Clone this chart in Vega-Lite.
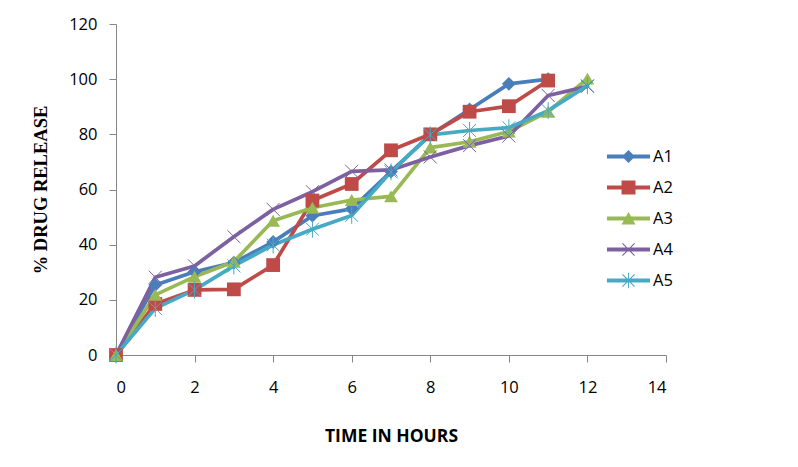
{
  "$schema": "https://vega.github.io/schema/vega-lite/v6.json",
  "autosize": "none",
  "width": 550,
  "height": 331,
  "padding": {"left": 116, "top": 24, "right": 132, "bottom": 112},
  "background": "white",
  "config": {
    "view": {"stroke": null},
    "axis": {"domainColor": "#868686", "tickColor": "#868686", "grid": false, "labelFont": "Open Sans", "labelFontSize": 16.5, "labelColor": "#000000", "tickSize": 7}
  },
  "data": {"values": [
    {"series": "A1", "t": 0, "v": 0}, {"series": "A1", "t": 1, "v": 25.4}, {"series": "A1", "t": 2, "v": 30.2}, {"series": "A1", "t": 3, "v": 33.5}, {"series": "A1", "t": 4, "v": 41}, {"series": "A1", "t": 5, "v": 50.5}, {"series": "A1", "t": 6, "v": 53}, {"series": "A1", "t": 7, "v": 66.5}, {"series": "A1", "t": 8, "v": 79.8}, {"series": "A1", "t": 9, "v": 89}, {"series": "A1", "t": 10, "v": 98.3}, {"series": "A1", "t": 11, "v": 100},
    {"series": "A2", "t": 0, "v": 0}, {"series": "A2", "t": 1, "v": 18.5}, {"series": "A2", "t": 2, "v": 23.6}, {"series": "A2", "t": 3, "v": 23.8}, {"series": "A2", "t": 4, "v": 32.6}, {"series": "A2", "t": 5, "v": 56}, {"series": "A2", "t": 6, "v": 62}, {"series": "A2", "t": 7, "v": 74.2}, {"series": "A2", "t": 8, "v": 80}, {"series": "A2", "t": 9, "v": 88.2}, {"series": "A2", "t": 10, "v": 90.2}, {"series": "A2", "t": 11, "v": 99.5},
    {"series": "A3", "t": 0, "v": 0}, {"series": "A3", "t": 1, "v": 21.8}, {"series": "A3", "t": 2, "v": 28.4}, {"series": "A3", "t": 3, "v": 33.8}, {"series": "A3", "t": 4, "v": 48.7}, {"series": "A3", "t": 5, "v": 53.4}, {"series": "A3", "t": 6, "v": 56.2}, {"series": "A3", "t": 7, "v": 57.5}, {"series": "A3", "t": 8, "v": 75.2}, {"series": "A3", "t": 9, "v": 77.3}, {"series": "A3", "t": 10, "v": 81}, {"series": "A3", "t": 11, "v": 88.2}, {"series": "A3", "t": 12, "v": 100.2},
    {"series": "A4", "t": 0, "v": 0}, {"series": "A4", "t": 1, "v": 28.2}, {"series": "A4", "t": 2, "v": 32.3}, {"series": "A4", "t": 3, "v": 42.9}, {"series": "A4", "t": 4, "v": 52.8}, {"series": "A4", "t": 5, "v": 59.2}, {"series": "A4", "t": 6, "v": 66.6}, {"series": "A4", "t": 7, "v": 67.1}, {"series": "A4", "t": 8, "v": 71.8}, {"series": "A4", "t": 9, "v": 75.9}, {"series": "A4", "t": 10, "v": 79.4}, {"series": "A4", "t": 11, "v": 94.1}, {"series": "A4", "t": 12, "v": 97.4},
    {"series": "A5", "t": 0, "v": 0}, {"series": "A5", "t": 1, "v": 16.9}, {"series": "A5", "t": 2, "v": 23.6}, {"series": "A5", "t": 3, "v": 32.3}, {"series": "A5", "t": 4, "v": 39.9}, {"series": "A5", "t": 5, "v": 45.6}, {"series": "A5", "t": 6, "v": 50.6}, {"series": "A5", "t": 7, "v": 66.4}, {"series": "A5", "t": 8, "v": 79.8}, {"series": "A5", "t": 9, "v": 81.4}, {"series": "A5", "t": 10, "v": 82.4}, {"series": "A5", "t": 11, "v": 88.6}, {"series": "A5", "t": 12, "v": 97.6}
  ]},
  "encoding": {
    "x": {"field": "t", "type": "quantitative", "scale": {"domain": [0, 14], "nice": false, "zero": false}, "axis": {"values": [0, 2, 4, 6, 8, 10, 12, 14], "title": "TIME IN HOURS", "titleFont": "Open Sans", "titleFontSize": 17.5, "titleFontWeight": "bold", "titleColor": "#000000", "labelPadding": 17, "titlePadding": 32}},
    "y": {"field": "v", "type": "quantitative", "scale": {"domain": [0, 120], "nice": false}, "axis": {"values": [0, 20, 40, 60, 80, 100, 120], "title": "% DRUG RELEASE", "titleFont": "Liberation Serif", "titleFontSize": 18.5, "titleFontWeight": "bold", "titleColor": "#000000", "labelPadding": 12, "titlePadding": 18}}
  },
  "layer": [
    {"mark": {"type": "line", "strokeWidth": 3.7, "strokeJoin": "round", "strokeCap": "round"},
     "encoding": {"color": {"field": "series", "type": "nominal", "scale": {"domain": ["A1", "A2", "A3", "A4", "A5"], "range": ["#4A7EBB", "#BE4B48", "#98B954", "#7D60A0", "#46AAC5"]}, "legend": null}}},
    {"transform": [{"filter": "datum.series === 'A1' || datum.series === 'A2' || datum.series === 'A3'"}],
     "mark": {"type": "point", "filled": true, "opacity": 1, "size": 190},
     "encoding": {"color": {"field": "series", "type": "nominal", "legend": null},
       "shape": {"field": "series", "type": "nominal", "scale": {"domain": ["A1", "A2", "A3"], "range": ["diamond", "square", "triangle-up"]}, "legend": null}}},
    {"transform": [{"filter": "datum.series === 'A4' || datum.series === 'A5'"}],
     "mark": {"type": "point", "filled": false, "opacity": 1, "size": 170, "strokeWidth": 1},
     "encoding": {"color": {"field": "series", "type": "nominal", "legend": null},
       "shape": {"field": "series", "type": "nominal", "scale": {"domain": ["A4", "A5"], "range": ["M-1,-1L1,1M-1,1L1,-1", "M-1,-1L1,1M-1,1L1,-1M0,-1.3L0,1.3"]}, "legend": null}}},
    {"mark": {"type": "point", "filled": true, "opacity": 0, "size": 961},
     "encoding": {
       "color": {"field": "series", "type": "nominal", "title": null,
        "legend": {"orient": "none", "legendX": 497, "legendY": 117, "padding": 0, "symbolSize": 961, "symbolOpacity": 1, "symbolStrokeWidth": 0, "rowPadding": 7, "labelOffset": 9, "labelFont": "Open Sans", "labelFontSize": 16.5, "labelColor": "#000000"}},
       "shape": {"field": "series", "type": "nominal", "title": null,
        "scale": {"domain": ["A1", "A2", "A3", "A4", "A5"], "range": [
          "M-1.39,-0.13H1.39V0.13H-1.39Z M0,-0.42L0.42,0L0,0.42L-0.42,0Z",
          "M-1.39,-0.13H1.39V0.13H-1.39Z M-0.45,-0.45H0.45V0.45H-0.45Z",
          "M-1.39,-0.13H1.39V0.13H-1.39Z M0,-0.42L0.45,0.38H-0.45Z",
          "M-1.39,-0.13H1.39V0.13H-1.39Z M-0.365,-0.415L0.415,0.365L0.365,0.415L-0.415,-0.365Z M-0.415,0.365L0.365,-0.415L0.415,-0.365L-0.365,0.415Z",
          "M-1.39,-0.13H1.39V0.13H-1.39Z M-0.365,-0.415L0.415,0.365L0.365,0.415L-0.415,-0.365Z M-0.415,0.365L0.365,-0.415L0.415,-0.365L-0.365,0.415Z M-0.03,-0.5H0.03V0.5H-0.03Z"
        ]},
        "legend": {"orient": "none", "legendX": 497, "legendY": 117, "padding": 0, "symbolSize": 961, "symbolOpacity": 1, "symbolStrokeWidth": 0, "rowPadding": 7, "labelOffset": 9, "labelFont": "Open Sans", "labelFontSize": 16.5, "labelColor": "#000000"}}
     }}
  ],
  "resolve": {"scale": {"shape": "independent"}, "legend": {"color": "independent", "shape": "independent"}}
}
